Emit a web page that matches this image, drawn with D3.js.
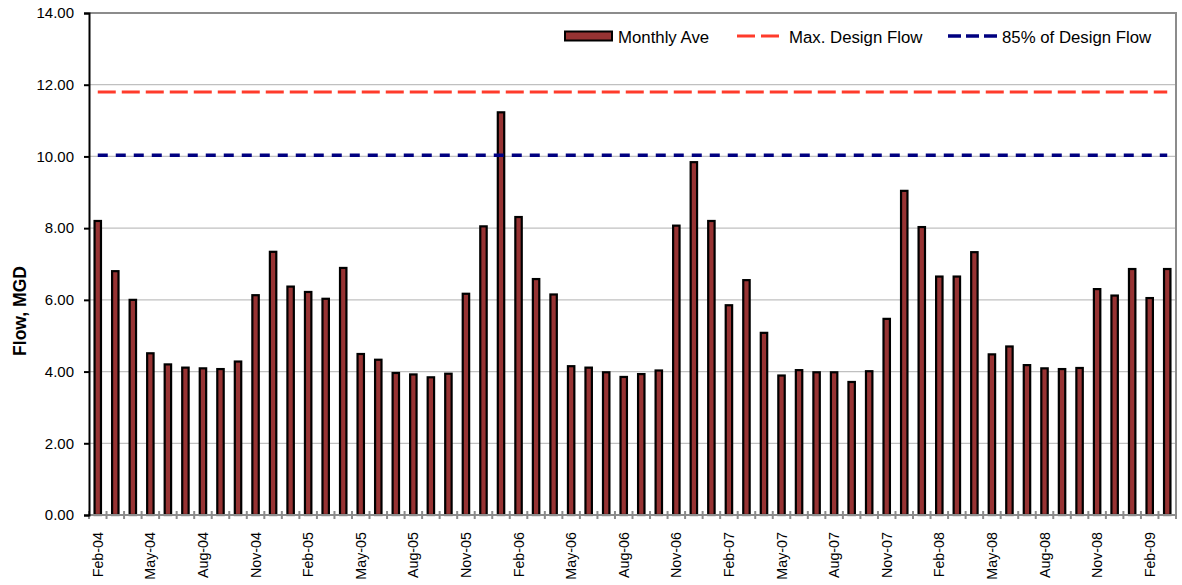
<!DOCTYPE html>
<html>
<head>
<meta charset="utf-8">
<script src="https://cdn.jsdelivr.net/npm/d3@7/dist/d3.min.js"></script>
<style>
  html, body { margin: 0; padding: 0; background: #fff; }
  svg { display: block; font-family: Arial, "Liberation Sans", sans-serif; }
</style>
</head>
<body>
<svg id="chart" width="1182" height="585"></svg>
<script>
// Monthly flow, Feb 2004 – Mar 2009
const months = [
  "Feb-04","Mar-04","Apr-04","May-04","Jun-04","Jul-04","Aug-04","Sep-04","Oct-04","Nov-04","Dec-04",
  "Jan-05","Feb-05","Mar-05","Apr-05","May-05","Jun-05","Jul-05","Aug-05","Sep-05","Oct-05","Nov-05","Dec-05",
  "Jan-06","Feb-06","Mar-06","Apr-06","May-06","Jun-06","Jul-06","Aug-06","Sep-06","Oct-06","Nov-06","Dec-06",
  "Jan-07","Feb-07","Mar-07","Apr-07","May-07","Jun-07","Jul-07","Aug-07","Sep-07","Oct-07","Nov-07","Dec-07",
  "Jan-08","Feb-08","Mar-08","Apr-08","May-08","Jun-08","Jul-08","Aug-08","Sep-08","Oct-08","Nov-08","Dec-08",
  "Jan-09","Feb-09","Mar-09"
];
const monthlyAve = [
  8.20, 6.80, 6.00, 4.51, 4.20, 4.11, 4.09, 4.07, 4.28, 6.13, 7.34,
  6.37, 6.22, 6.03, 6.89, 4.49, 4.33, 3.96, 3.92, 3.84, 3.94, 6.17, 8.05,
  11.23, 8.31, 6.58, 6.15, 4.15, 4.11, 3.98, 3.85, 3.93, 4.03, 8.07, 9.84,
  8.20, 5.85, 6.55, 5.08, 3.89, 4.04, 3.98, 3.98, 3.71, 4.01, 5.47, 9.04,
  8.03, 6.65, 6.65, 7.33, 4.48, 4.70, 4.18, 4.09, 4.07, 4.10, 6.30, 6.12,
  6.86, 6.05, 6.86
];
const maxDesignFlow = 11.8;
const pctOfDesign = 0.85;
const yTicks = [0, 2, 4, 6, 8, 10, 12, 14];
const xLabelEvery = 3;
const seriesNames = ["Monthly Ave", "Max. Design Flow", "85% of Design Flow"];

const designLine = months.map(() => maxDesignFlow);
const pctLine = months.map(() => +(maxDesignFlow * pctOfDesign).toFixed(2));

const svg = d3.select("#chart");
const L = 89, R = 1176, T = 13, B = 515;

const x = d3.scaleBand().domain(months).range([L, R]).paddingInner(0.52).paddingOuter(0.26);
const y = d3.scaleLinear().domain([0, 14]).range([B, T]);
const step = x.step();
const cx = d => x(d) + x.bandwidth() / 2;

// gridlines
svg.append("g").selectAll("line").data(yTicks.filter(v => v > 0 && v < 14)).join("line")
  .attr("x1", L).attr("x2", R).attr("y1", d => y(d)).attr("y2", d => y(d))
  .attr("stroke", "#c0c0c0").attr("stroke-width", 1.3);

// plot border (top and right)
svg.append("path")
  .attr("d", `M${L},${T}H${R}V${B}`)
  .attr("fill", "none").attr("stroke", "#8c8c8c").attr("stroke-width", 2);

// bars
svg.append("g").selectAll("rect").data(months).join("rect")
  .attr("x", d => x(d) + 1)
  .attr("width", x.bandwidth() - 2)
  .attr("y", (d, i) => y(monthlyAve[i]))
  .attr("height", (d, i) => y(0) - y(monthlyAve[i]))
  .attr("fill", "#973333").attr("stroke", "#000").attr("stroke-width", 2.2);

// reference lines
const line = d3.line().x((d, i) => cx(months[i])).y(d => y(d));
svg.append("path").datum(designLine).attr("d", line)
  .attr("fill", "none").attr("stroke", "#ff3b2b").attr("stroke-width", 3)
  .attr("stroke-dasharray", "18,6");
svg.append("path").datum(pctLine).attr("d", line)
  .attr("fill", "none").attr("stroke", "#000080").attr("stroke-width", 3.5)
  .attr("stroke-dasharray", "10,8");

// x axis: line, category boundary ticks, every third month labelled
const xAxisG = svg.append("g");
xAxisG.append("line").attr("x1", L).attr("x2", R).attr("y1", B).attr("y2", B)
  .attr("stroke", "#8c8c8c").attr("stroke-width", 2);
xAxisG.selectAll("line.tick").data(d3.range(months.length + 1)).join("line")
  .attr("class", "tick")
  .attr("x1", i => L + i * step).attr("x2", i => L + i * step)
  .attr("y1", B - 4).attr("y2", B + 4)
  .attr("stroke", "#8c8c8c").attr("stroke-width", 2);
xAxisG.selectAll("text").data(months.filter((d, i) => i % xLabelEvery === 0)).join("text")
  .attr("transform", d => `translate(${cx(d) + 5},532) rotate(-90)`)
  .attr("text-anchor", "end")
  .attr("font-size", 14.3).attr("fill", "#000")
  .text(d => d);

// y axis
const yAxis = d3.axisLeft(y).tickValues(yTicks).tickFormat(d3.format(".2f")).tickSize(5).tickPadding(10);
const yg = svg.append("g").attr("transform", `translate(${L},0)`).call(yAxis);
yg.select(".domain").attr("stroke", "#000").attr("stroke-width", 2);
yg.selectAll(".tick line").attr("stroke", "#000").attr("stroke-width", 2);
yg.selectAll(".tick text").attr("font-size", 15).attr("fill", "#000")
  .attr("font-family", "Arial, 'Liberation Sans', sans-serif");

svg.append("text")
  .attr("transform", "translate(26,311) rotate(-90)")
  .attr("text-anchor", "middle").attr("font-size", 17.5).attr("font-weight", "bold")
  .text("Flow, MGD");

// legend
const lg = svg.append("g").attr("font-size", 16.8);
lg.append("rect").attr("x", 565).attr("y", 31.5).attr("width", 47).attr("height", 9)
  .attr("fill", "#973333").attr("stroke", "#000").attr("stroke-width", 2);
lg.append("text").attr("x", 618).attr("y", 42.5).text(seriesNames[0]);
lg.append("line").attr("x1", 737).attr("x2", 779).attr("y1", 36).attr("y2", 36)
  .attr("stroke", "#ff3b2b").attr("stroke-width", 3).attr("stroke-dasharray", "18,6");
lg.append("text").attr("x", 789).attr("y", 42.5).text(seriesNames[1]);
lg.append("line").attr("x1", 948).attr("x2", 998).attr("y1", 36).attr("y2", 36)
  .attr("stroke", "#000080").attr("stroke-width", 3.5).attr("stroke-dasharray", "13,5");
lg.append("text").attr("x", 1002).attr("y", 42.5).text(seriesNames[2]);
</script>
</body>
</html>
